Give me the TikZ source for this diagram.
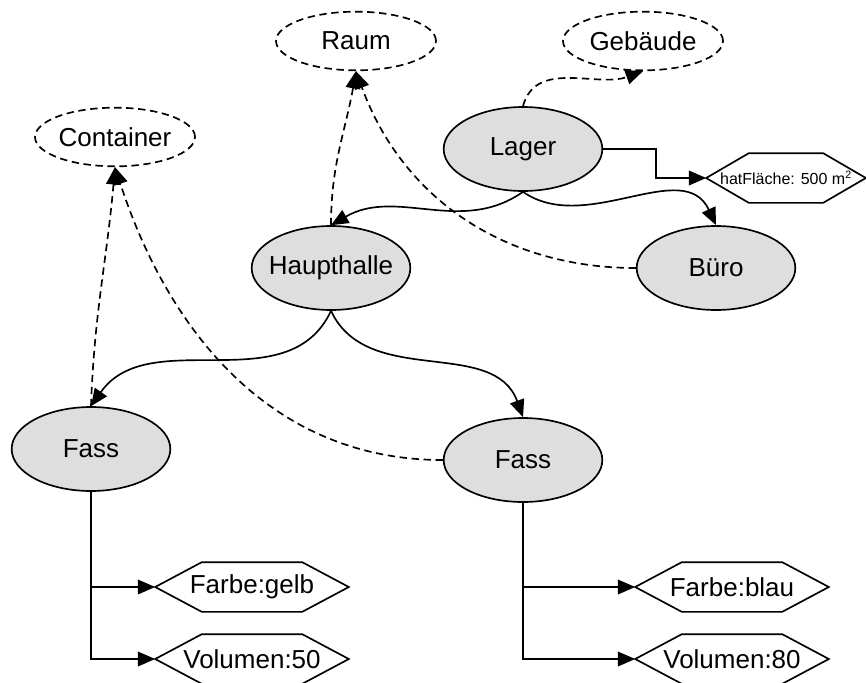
\documentclass[tikz,border=0pt]{standalone}
\usepackage{fontspec}
\setmainfont{Liberation Sans}
\usetikzlibrary{shapes.geometric,arrows.meta}

% hexagon frame round an attribute node
\newcommand{\hexframe}[2]{%
  \draw (#1.west) -- ([xshift=#2]#1.north west) -- ([xshift=-#2]#1.north east)
    -- (#1.east) -- ([xshift=-#2]#1.south east) -- ([xshift=#2]#1.south west) -- cycle;}

\begin{document}
\begin{tikzpicture}[x=0.75pt,y=0.75pt,line width=1.25pt,
    >={Triangle[length=13pt,width=11pt]},
    font=\fontsize{19.5}{22}\selectfont]

    \useasboundingbox (0,0) rectangle (866,-682);

    \begin{scope}[every node/.style={ellipse,draw,dash pattern=on 5.5pt off 3.5pt,minimum width=120pt,minimum height=44pt,inner xsep=-12pt,inner ysep=0pt}]
        \node (raum) at (356,-41) {Raum}; % Klassen
        \node (gebaeude) at (643,-41) {Gebäude};
        \node (container) at (115,-137) {Container};
    \end{scope}

    \begin{scope}[every node/.style={ellipse,draw,fill=black!13,minimum width=119pt,minimum height=63pt,inner xsep=-12pt,inner ysep=0pt}]
        \node (lager) at (523,-149) {Lager}; % Instanzen
        \node (haupthalle) at (331,-268) {Haupthalle};
        \node (buero) at (716,-268) {Büro};
        \node (fass1) at (91,-449) {Fass};
        \node (fass2) at (523,-460) {Fass};
    \end{scope}

    \begin{scope}[every node/.style={minimum width=144pt,minimum height=36pt,inner sep=0pt}]
        \node (gelb) at (252,-587) {Farbe:gelb}; % Attribute
        \node (vol50) at (252,-659) {Volumen:50};
        \node (blau) at (732,-587) {Farbe:blau};
        \node (vol80) at (732,-659) {Volumen:80};
        \node[minimum width=118.5pt,font=\fontsize{12}{14}\selectfont] (flaeche) at (786,-178) {hatFläche: 500 m\textsuperscript{2}};
    \end{scope}
    \hexframe{gelb}{35pt}
    \hexframe{vol50}{35pt}
    \hexframe{blau}{35pt}
    \hexframe{vol80}{35pt}
    \hexframe{flaeche}{32pt}

    \begin{scope}[every edge/.style={draw}]
        \path [->] (lager.south) edge [out=215,in=30] (haupthalle.north);
        \path [->] (lager.south) edge [out=-35,in=115] (buero.north);
        \path [->] (haupthalle.south) edge [out=245,in=55] (fass1.north);
        \path [->] (haupthalle.south) edge [out=295,in=110] (fass2.north);
    \end{scope}

    \begin{scope}[every edge/.style={draw,dash pattern=on 5.5pt off 3.5pt}]
        % Typ-Beziehungen
        \path [->] (lager.north) edge [out=75,in=200] (gebaeude.south);
        \path [->] (haupthalle.north) edge [out=90,in=260] (raum.south);
        \path [->] (buero.west) edge [out=180,in=290] (raum.south);
        \path [->] (fass1.north) edge [out=88,in=265] (container.south);
        \path [->] (fass2.west) edge [out=180,in=288] (container.south);
    \end{scope}

    \draw [->] (lager.east) -- ++(53,0) |- (flaeche.west);
    \draw [->] (fass1.south) |- (gelb.west);
    \draw [->] (fass1.south) |- (vol50.west);
    \draw [->] (fass2.south) |- (blau.west);
    \draw [->] (fass2.south) |- (vol80.west);

\end{tikzpicture}
\end{document}
